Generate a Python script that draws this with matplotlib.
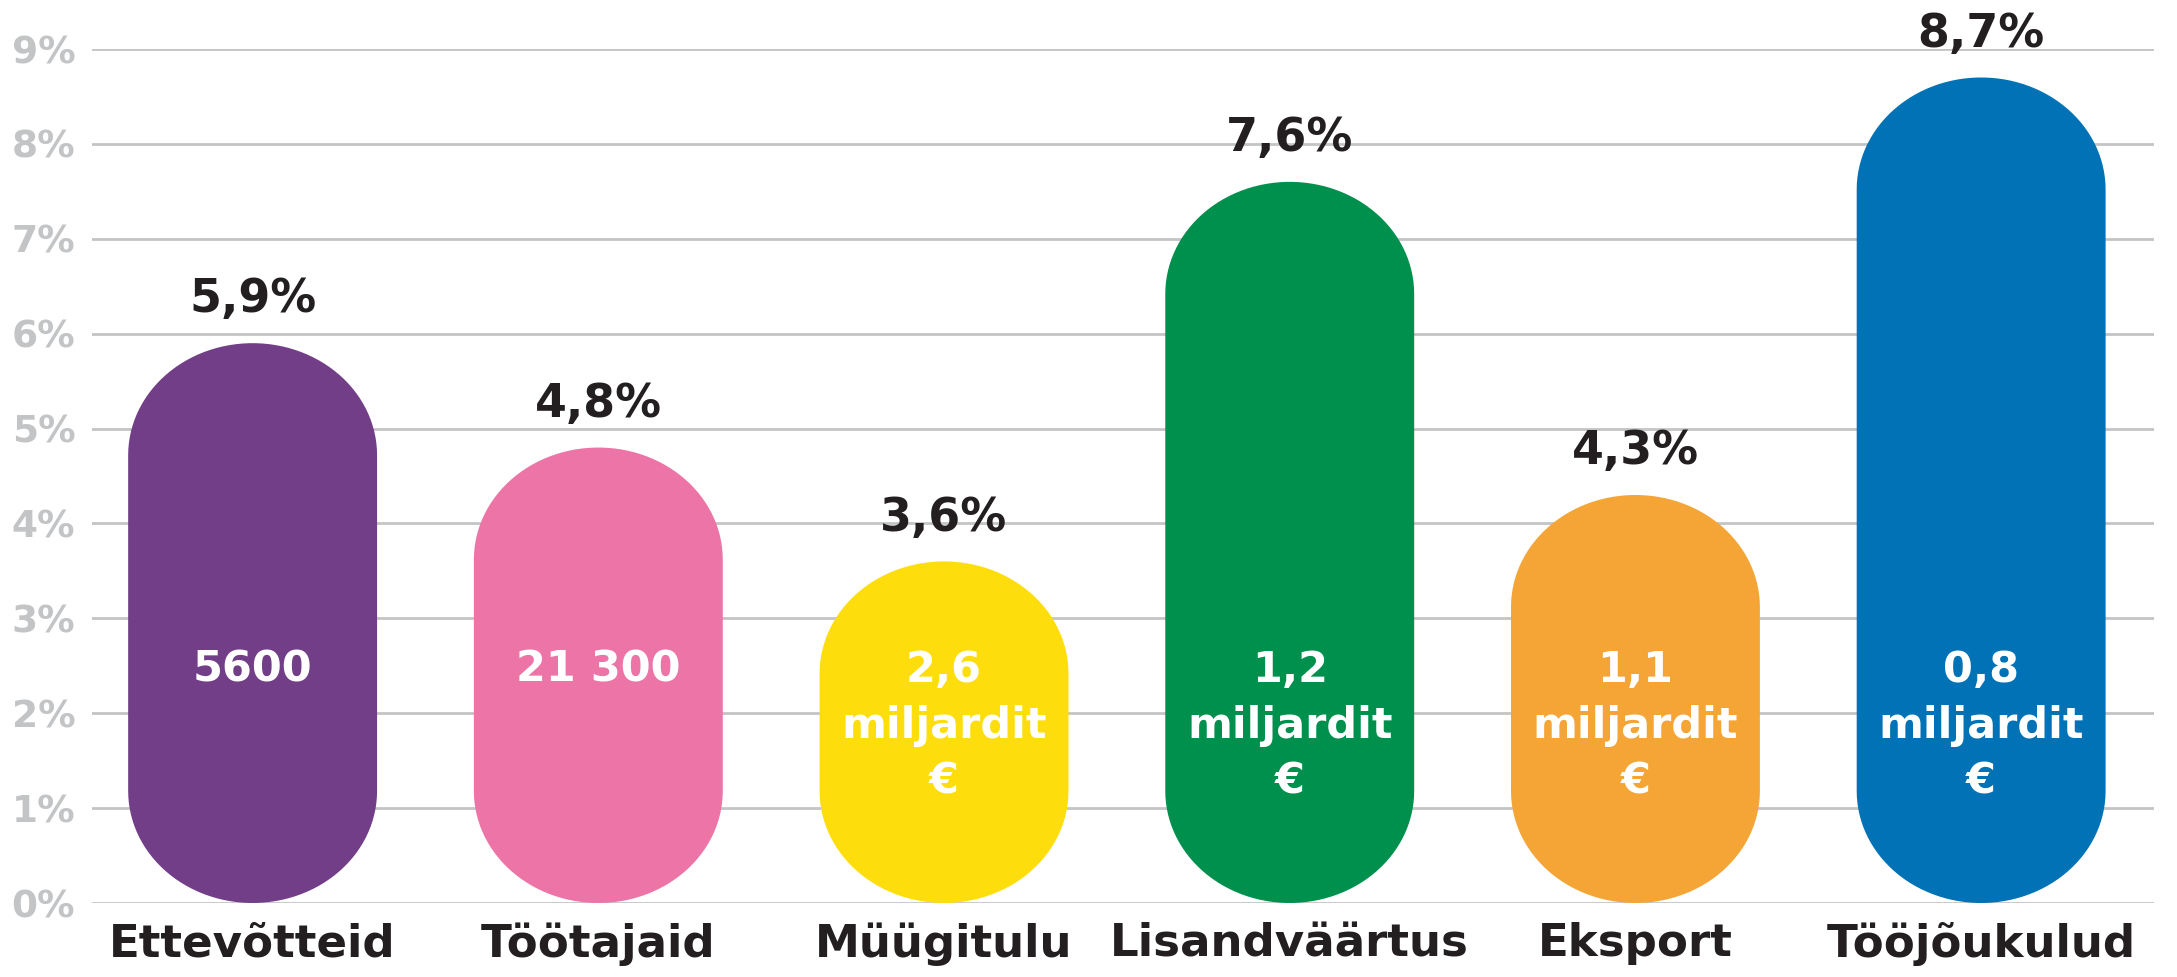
import numpy as np
import matplotlib
matplotlib.use("Agg")
import matplotlib.pyplot as plt
from matplotlib.path import Path
from matplotlib.patches import PathPatch

categories = ["Ettevõtteid", "Töötajaid", "Müügitulu", "Lisandväärtus", "Eksport", "Tööjõukulud"]
values = [5.9, 4.8, 3.6, 7.6, 4.3, 8.7]
value_labels = ["5,9%", "4,8%", "3,6%", "7,6%", "4,3%", "8,7%"]
inner_labels = ["5600", "21 300", "2,6\nmiljardit\n€", "1,2\nmiljardit\n€", "1,1\nmiljardit\n€", "0,8\nmiljardit\n€"]
colors = ["#713e87", "#ec74a6", "#fedd0d", "#00904e", "#f4a536", "#0072b5"]
yticks = list(range(0, 10))
ytick_labels = [f"{t}%" for t in yticks]

plt.rcParams['font.family'] = ['DejaVu Sans']
fig = plt.figure(figsize=(21.77, 9.77), dpi=100)
ax = fig.add_axes([92/2177, 1-903/977, (2154-92)/2177, (903-49)/977])
ax.set_xlim(-0.4646, 5.5)
ax.set_ylim(0, 9)

for t in yticks:
    ax.axhline(t, color="#c3c4c6", lw=2.0, zorder=1)

W = 0.72
RY = 1.18
th = np.linspace(0, np.pi, 60)

def pill(xc, h):
    rx = W / 2
    ry = min(RY, h / 2)
    top = [(xc + rx * np.cos(a), h - ry + ry * np.sin(a)) for a in th]
    bot = [(xc - rx * np.cos(a), ry - ry * np.sin(a)) for a in th]
    verts = top + bot + [top[0]]
    codes = [Path.MOVETO] + [Path.LINETO] * (len(verts) - 2) + [Path.CLOSEPOLY]
    return Path(verts, codes)

for i, (v, c) in enumerate(zip(values, colors)):
    ax.add_patch(PathPatch(pill(i, v), facecolor=c, edgecolor="none", zorder=2))
    ax.text(i, v + 0.22, value_labels[i], ha="center", va="bottom", fontsize=33,
            fontweight="bold", color="#231f20", clip_on=False, zorder=3)
    ax.text(i, 2.68, inner_labels[i], ha="center", va="top", fontsize=31,
            fontweight="bold", color="white", linespacing=1.42, zorder=3)

ax.set_yticks(yticks)
ax.set_yticklabels(ytick_labels, fontsize=27, fontweight="bold", color="#c3c4c6")
ax.set_xticks(range(len(categories)))
ax.set_xticklabels(categories, fontsize=32.5, fontweight="bold", color="#231f20")
ax.tick_params(axis="both", length=0)
ax.tick_params(axis="y", pad=12)
ax.tick_params(axis="x", pad=14)
for s in ax.spines.values():
    s.set_visible(False)

fig.savefig("out.png", dpi=100, facecolor="white")
